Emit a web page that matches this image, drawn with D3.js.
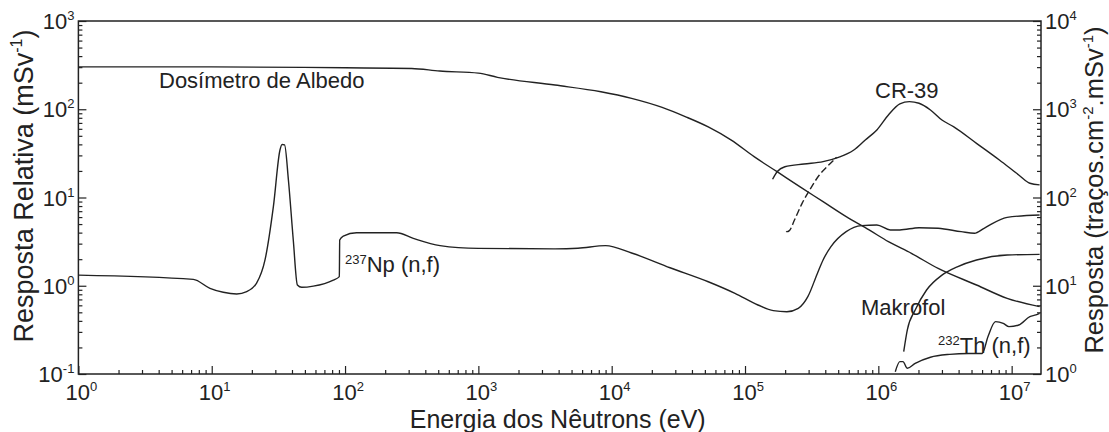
<!DOCTYPE html>
<html>
<head>
<meta charset="utf-8">
<script src="https://cdn.jsdelivr.net/npm/d3@7"></script>
<style>
  html, body { margin: 0; padding: 0; background: #fff; }
  svg { display: block; font-family: "Liberation Sans", Arial, Helvetica, sans-serif; }
</style>
</head>
<body>
<svg id="chart" width="1109" height="432"></svg>
<script>
// ---------------- DATA ----------------
// Dosímetro de Albedo (left axis, mSv^-1)
const albedoE = [1, 10, 100, 316, 513, 1000, 1390, 3760, 8300, 14100, 23900, 35600, 53000, 78900, 117000, 174000, 259000, 385000, 574000, 853000, 1.19e6, 1.77e6, 2.81e6, 5.45e6, 9.25e6, 1.62e7];
const albedoR = [302, 302, 295, 290, 271, 257, 230, 188, 158, 133, 105, 82.6, 63.1, 44.7, 29.0, 19.6, 13.2, 8.97, 6.07, 4.29, 3.16, 2.33, 1.57, 1.02, 0.72, 0.58];

// 237Np (n,f) (left axis)
const npE = [1, 7.28, 9.7, 12.2, 15.4, 18.3, 21.7, 25.1, 29.0, 32.5, 33.7, 35.2, 37.6, 40.9, 43.9, 47.3, 57.8, 81.7, 90.6, 91.2, 97, 122, 244, 325, 516, 1000, 3760, 5580, 9000, 14100, 27400, 53000, 84100, 125000, 163000, 206000, 251000, 296000, 349000, 385000, 441000, 574000, 748000, 975000, 1.23e6, 1.45e6, 2.02e6, 2.81e6, 4.18e6, 5.26e6, 6.21e6, 9.25e6, 1.62e7];
const npR = [1.32, 1.18, 0.935, 0.843, 0.807, 0.857, 1.07, 1.96, 7.87, 34.5, 39.8, 39.4, 15.8, 3.30, 1.02, 0.96, 0.99, 1.16, 1.27, 3.30, 3.66, 3.99, 3.99, 3.44, 2.85, 2.65, 2.62, 2.66, 2.85, 2.35, 1.60, 1.11, 0.82, 0.605, 0.522, 0.508, 0.555, 0.752, 1.38, 1.96, 2.77, 4.10, 4.80, 4.88, 4.29, 4.29, 4.55, 4.48, 4.10, 3.93, 4.48, 5.96, 6.34];

// CR-39 (right axis, traços.cm^-2.mSv^-1)
const cr39E = [161000, 174000, 199000, 277000, 385000, 502000, 655000, 798000, 975000, 1.19e6, 1.45e6, 1.71e6, 2.02e6, 2.46e6, 3.0e6, 3.66e6, 5.45e6, 8.09e6, 1.13e7, 1.37e7, 1.62e7];
const cr39R = [161, 196, 223, 240, 255, 285, 345, 449, 582, 861, 1150, 1220, 1170, 982, 755, 635, 411, 266, 180, 145, 139];

// CR-39 dashed branch (right axis)
const cr39dE = [204000, 206000, 215000, 235000, 268000, 306000, 361000, 412000, 486000];
const cr39dR = [41.5, 41.0, 42.1, 55.6, 85.9, 122, 180, 223, 285];

// Makrofol (right axis)
const makE = [1.55e6, 1.65e6, 1.89e6, 2.30e6, 3.0e6, 3.91e6, 5.45e6, 9.25e6, 1.62e7];
const makR = [1.79, 3.16, 5.31, 8.95, 13.2, 16.4, 19.6, 22.3, 22.7];

// 232Th (n,f) (left axis)
const thE = [1.34e6, 1.45e6, 1.53e6, 1.65e6, 1.89e6, 2.46e6, 3.42e6, 4.76e6, 6.01e6, 6.64e6, 7.57e6, 8.65e6, 9.55e6, 1.13e7, 1.37e7, 1.52e7, 1.62e7];
const thR = [0.106, 0.138, 0.138, 0.116, 0.132, 0.155, 0.167, 0.171, 0.171, 0.265, 0.392, 0.375, 0.344, 0.359, 0.447, 0.467, 0.486];

// ticks
const xMajor = [1, 10, 100, 1e3, 1e4, 1e5, 1e6, 1e7];
const xMajorExp = ["0", "1", "2", "3", "4", "5", "6", "7"];
const yLMajor = [0.1, 1, 10, 100, 1000];
const yLMajorExp = ["-1", "0", "1", "2", "3"];
const yRMajor = [1, 10, 100, 1000, 10000];
const yRMajorExp = ["0", "1", "2", "3", "4"];

// ---------------- LAYOUT ----------------
const svg = d3.select("#chart");
const L = 78.4, R = 1041, T = 21, B = 374;
const ink = "#222";

const x = d3.scaleLog().domain([1, 1.66e7]).range([L, R]);
const yL = d3.scaleLog().domain([0.1, 1000]).range([B, T]);
const yR = d3.scaleLog().domain([1, 10000]).range([B, T]);

function minorTicks(lo, hi) {
  const out = [];
  for (let p = Math.floor(Math.log10(lo)); p <= Math.ceil(Math.log10(hi)); p++) {
    for (let m = 2; m <= 9; m++) {
      const v = m * Math.pow(10, p);
      if (v > lo && v < hi) out.push(v);
    }
  }
  return out;
}

function styleAxis(g) {
  g.select(".domain").remove();
  g.selectAll(".tick line").attr("stroke", ink).attr("stroke-width", 1.2);
  g.selectAll(".tick text").remove();
}

// bottom axis
svg.append("g").attr("transform", `translate(0,${B})`)
  .call(d3.axisBottom(x).tickValues(xMajor).tickSize(-8).tickFormat(""))
  .call(styleAxis);
svg.append("g").attr("transform", `translate(0,${B})`)
  .call(d3.axisBottom(x).tickValues(minorTicks(1, 1.66e7)).tickSize(-4).tickFormat(""))
  .call(styleAxis);
// left axis
svg.append("g").attr("transform", `translate(${L},0)`)
  .call(d3.axisLeft(yL).tickValues(yLMajor).tickSize(-8).tickFormat(""))
  .call(styleAxis);
svg.append("g").attr("transform", `translate(${L},0)`)
  .call(d3.axisLeft(yL).tickValues(minorTicks(0.1, 1000)).tickSize(-4).tickFormat(""))
  .call(styleAxis);
// right axis
svg.append("g").attr("transform", `translate(${R},0)`)
  .call(d3.axisRight(yR).tickValues(yRMajor).tickSize(-8).tickFormat(""))
  .call(styleAxis);
svg.append("g").attr("transform", `translate(${R},0)`)
  .call(d3.axisRight(yR).tickValues(minorTicks(1, 10000)).tickSize(-4).tickFormat(""))
  .call(styleAxis);

// frame
svg.append("rect").attr("x", L).attr("y", T).attr("width", R - L).attr("height", B - T)
  .attr("fill", "none").attr("stroke", ink).attr("stroke-width", 1.5);

// tick labels
const TF = 22, SF = 13;
function powLabel(sel, exp) {
  sel.append("tspan").text("10");
  sel.append("tspan").attr("font-size", SF).attr("dy", -9).text(exp);
}
xMajor.forEach((v, i) => {
  const t = svg.append("text").attr("x", x(v) + 3).attr("y", 400)
    .attr("text-anchor", "middle").attr("font-size", TF).attr("fill", ink);
  powLabel(t, xMajorExp[i]);
});
yLMajor.forEach((v, i) => {
  const t = svg.append("text").attr("x", L - 4).attr("y", yL(v) + 8)
    .attr("text-anchor", "end").attr("font-size", TF).attr("fill", ink);
  powLabel(t, yLMajorExp[i]);
});
yRMajor.forEach((v, i) => {
  const t = svg.append("text").attr("x", R + 4).attr("y", yR(v) + 8)
    .attr("text-anchor", "start").attr("font-size", TF).attr("fill", ink);
  powLabel(t, yRMajorExp[i]);
});

// axis titles
svg.append("text").attr("x", (L + R) / 2 - 2).attr("y", 428).attr("text-anchor", "middle")
  .attr("font-size", 25).attr("fill", ink).text("Energia dos Nêutrons (eV)");

const lt = svg.append("text").attr("transform", `translate(33,${186}) rotate(-90)`)
  .attr("text-anchor", "middle").attr("font-size", 27).attr("fill", ink);
lt.append("tspan").text("Resposta Relativa (mSv");
lt.append("tspan").attr("font-size", 16).attr("dy", -11).text("-1");
lt.append("tspan").attr("dy", 11).text(")");

const rt = svg.append("text").attr("transform", `translate(1103,${190}) rotate(-90)`)
  .attr("text-anchor", "middle").attr("font-size", 25.5).attr("fill", ink);
rt.append("tspan").text("Resposta (traços.cm");
rt.append("tspan").attr("font-size", 15).attr("dy", -10).text("-2");
rt.append("tspan").attr("dy", 10).text(".mSv");
rt.append("tspan").attr("font-size", 15).attr("dy", -10).text("-1");
rt.append("tspan").attr("dy", 10).text(")");

// curves
const lineL = d3.line().x(d => x(d[0])).y(d => yL(d[1])).curve(d3.curveMonotoneX);
const lineR = d3.line().x(d => x(d[0])).y(d => yR(d[1])).curve(d3.curveMonotoneX);
const zip = (a, b) => a.map((v, i) => [v, b[i]]);

const curves = svg.append("g").attr("fill", "none").attr("stroke", ink).attr("stroke-width", 1.4);
curves.append("path").attr("d", lineL(zip(albedoE, albedoR)));
curves.append("path").attr("d", lineL(zip(npE, npR)));
curves.append("path").attr("d", lineR(zip(cr39E, cr39R)));
curves.append("path").attr("d", lineR(zip(cr39dE, cr39dR))).attr("stroke-dasharray", "7,3");
curves.append("path").attr("d", lineR(zip(makE, makR)));
curves.append("path").attr("d", lineL(zip(thE, thR)));

// annotations
const AF = 22;
svg.append("text").attr("x", 159).attr("y", 88).attr("font-size", AF).attr("fill", ink).text("Dosímetro de Albedo");
const np = svg.append("text").attr("x", 345).attr("y", 272).attr("font-size", AF).attr("fill", ink);
np.append("tspan").attr("font-size", SF).attr("dy", -8).text("237");
np.append("tspan").attr("dy", 8).text("Np (n,f)");
svg.append("text").attr("x", 875).attr("y", 98).attr("font-size", AF).attr("fill", ink).text("CR-39");
svg.append("text").attr("x", 861).attr("y", 315).attr("font-size", AF).attr("fill", ink).text("Makrofol");
const th = svg.append("text").attr("x", 938).attr("y", 353).attr("font-size", AF).attr("fill", ink);
th.append("tspan").attr("font-size", SF).attr("dy", -8).text("232");
th.append("tspan").attr("dy", 8).text("Th (n,f)");
</script>
</body>
</html>
